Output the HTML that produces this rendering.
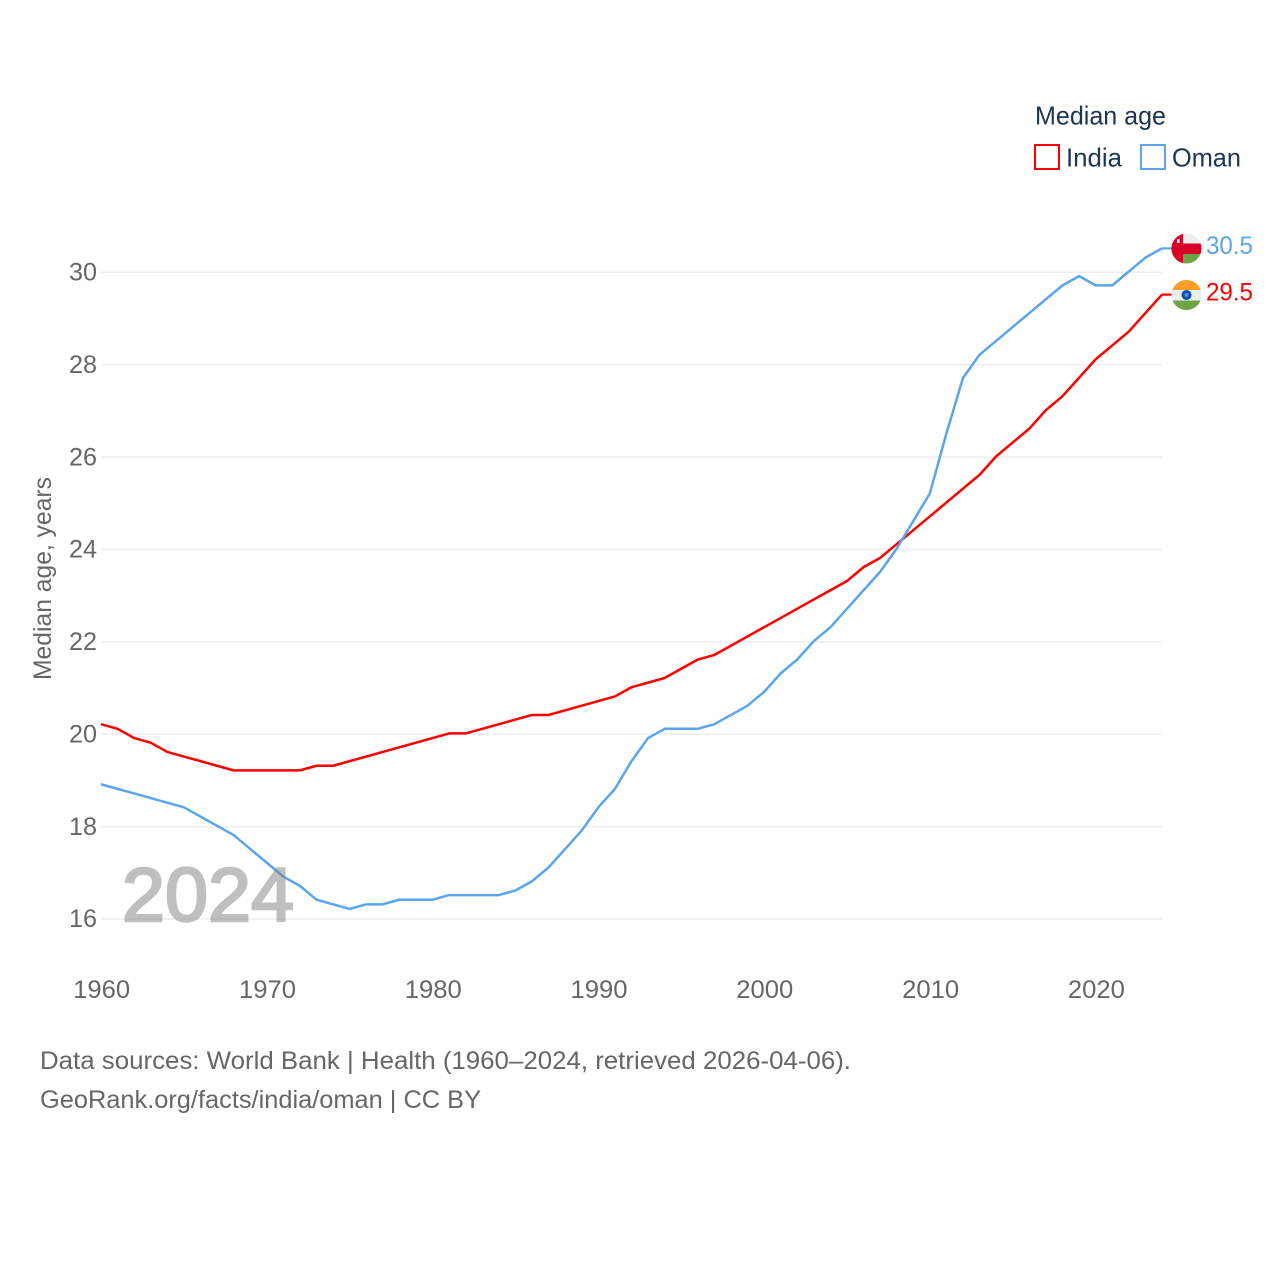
<!DOCTYPE html>
<html lang="en">
<head>
<meta charset="utf-8">
<title>Median age: India and Oman</title>
<style>
html,body{margin:0;padding:0;background:#fff;width:1280px;height:1280px;overflow:hidden}
svg{display:block}
text{font-family:"Liberation Sans",sans-serif}
</style>
</head>
<body>
<svg id="chart" width="1280" height="1280" viewBox="0 0 1280 1280" xmlns="http://www.w3.org/2000/svg">
  <rect x="0" y="0" width="1280" height="1280" fill="#fff"/>
  <g id="grid"></g>
  <g id="y-ticks"></g>
  <g id="x-ticks"></g>
  <text transform="translate(51,680) rotate(-90)" font-size="25" fill="#666" textLength="203" lengthAdjust="spacingAndGlyphs">Median age, years</text>
  <g id="lines"></g>
  <text x="122" y="921" font-size="76" fill="#808080" stroke="#808080" stroke-width="2.500" opacity="0.5" textLength="172" lengthAdjust="spacingAndGlyphs">2024</text>

  <g>
    <text x="1035" y="124.500" font-size="26" fill="#1c3553" textLength="131" lengthAdjust="spacingAndGlyphs">Median age</text>
    <g>
      <rect x="1035" y="145" width="24" height="24" fill="#fff" stroke="#ff0000" stroke-width="2"/>
      <text x="1066" y="166.500" font-size="26" fill="#1c3553" textLength="56" lengthAdjust="spacingAndGlyphs">India</text>
    </g>
    <g>
      <rect x="1141" y="145" width="24" height="24" fill="#fff" stroke="#5ba4ee" stroke-width="2"/>
      <text x="1172" y="166.500" font-size="26" fill="#1c3553" textLength="69" lengthAdjust="spacingAndGlyphs">Oman</text>
    </g>
  </g>

  <defs>
    <clipPath id="clip-oman"><circle cx="1186.500" cy="248.500" r="15"/></clipPath>
    <clipPath id="clip-india"><circle cx="1186.500" cy="295" r="15"/></clipPath>
  </defs>
  <g clip-path="url(#clip-oman)">
    <rect x="1171" y="233" width="31" height="10.500" fill="#eeeeee"/>
    <rect x="1171" y="243.500" width="31" height="10.500" fill="#d80027"/>
    <rect x="1171" y="254" width="31" height="10" fill="#6da544"/>
    <rect x="1171" y="233" width="12" height="31" fill="#d80027"/>
    <rect x="1177" y="239" width="2.500" height="4" fill="#eeeeee"/>
  </g>
  <g clip-path="url(#clip-india)">
    <rect x="1171" y="280" width="31" height="10" fill="#ff9d27"/>
    <rect x="1171" y="290" width="31" height="10.500" fill="#eeeeee"/>
    <rect x="1171" y="300.500" width="31" height="10" fill="#6da544"/>
    <circle cx="1186.500" cy="295" r="5" fill="#0052b4"/>
    <circle cx="1186.500" cy="295" r="2" fill="#5f8fd0"/>
  </g>
  <g id="end-labels"></g>

  <g>
    <text x="40" y="1069" font-size="25" fill="#666" textLength="811" lengthAdjust="spacingAndGlyphs">Data sources: World Bank | Health (1960–2024, retrieved 2026-04-06).</text>
    <text x="40" y="1108" font-size="25" fill="#666" textLength="441" lengthAdjust="spacingAndGlyphs">GeoRank.org/facts/india/oman | CC BY</text>
  </g>
</svg>
<script>
const startYear = 1960;
const xTickLabels = [1960, 1970, 1980, 1990, 2000, 2010, 2020];
const yTickLabels = [16, 18, 20, 22, 24, 26, 28, 30];
const indiaValues = [20.2,20.1,19.9,19.8,19.6,19.5,19.4,19.3,19.2,19.2,19.2,19.2,19.2,19.3,19.3,19.4,19.5,19.6,19.7,19.8,19.9,20.0,20.0,20.1,20.2,20.3,20.4,20.4,20.5,20.6,20.7,20.8,21.0,21.1,21.2,21.4,21.6,21.7,21.9,22.1,22.3,22.5,22.7,22.9,23.1,23.3,23.6,23.8,24.1,24.4,24.7,25.0,25.3,25.6,26.0,26.3,26.6,27.0,27.3,27.7,28.1,28.4,28.7,29.1,29.5];
const omanValues = [18.9,18.8,18.7,18.6,18.5,18.4,18.2,18.0,17.8,17.5,17.2,16.9,16.7,16.4,16.3,16.2,16.3,16.3,16.4,16.4,16.4,16.5,16.5,16.5,16.5,16.6,16.8,17.1,17.5,17.9,18.4,18.8,19.4,19.9,20.1,20.1,20.1,20.2,20.4,20.6,20.9,21.3,21.6,22.0,22.3,22.7,23.1,23.5,24.0,24.6,25.2,26.5,27.7,28.2,28.5,28.8,29.1,29.4,29.7,29.9,29.7,29.7,30.0,30.3,30.5];

const NS = 'http://www.w3.org/2000/svg';
const X0 = 101, X1 = 1162, Y16 = 919, Y30 = 272.3, LINE_NUDGE = -0.8;
const lastYear = startYear + indiaValues.length - 1;
function xScale(year) { return X0 + (year - startYear) * (X1 - X0) / (2024 - 1960); }
function yScale(v) { return Y16 + (v - 16) * (Y30 - Y16) / (30 - 16); }
function make(tag, attrs, parent) {
  const el = document.createElementNS(NS, tag);
  for (const k in attrs) el.setAttribute(k, attrs[k]);
  parent.appendChild(el);
  return el;
}

const gridG = document.getElementById('grid');
const yG = document.getElementById('y-ticks');
yTickLabels.forEach(function (v) {
  const line = make('line', {x1: X0, x2: X1, y1: yScale(v), y2: yScale(v), stroke: '#eeeeee', 'stroke-width': 1.5}, gridG);
  
  
  const t = make('text', {x: 97, y: yScale(v) + 8.2, 'text-anchor': 'end', 'font-size': 25, fill: '#666', textLength: 28, lengthAdjust: 'spacingAndGlyphs'}, yG);
  
  
  t.textContent = v;
});

const xG = document.getElementById('x-ticks');
xTickLabels.forEach(function (year) {
  const t = make('text', {x: xScale(year) + 0.7, y: 998, 'text-anchor': 'middle', 'font-size': 25, fill: '#666', textLength: 57, lengthAdjust: 'spacingAndGlyphs'}, xG);
  
  
  t.textContent = year;
});

const linesG = document.getElementById('lines');
const labelsG = document.getElementById('end-labels');
function drawSeries(values, color, seriesName) {
  const pts = values.map(function (v, i) { return xScale(startYear + i).toFixed(2) + ',' + (yScale(v) + LINE_NUDGE).toFixed(2); });
  const path = make('polyline', {points: pts.join(' '), fill: 'none', stroke: color, 'stroke-width': 2.5, 'stroke-linejoin': 'round'}, linesG);
  
  
  path.setAttribute('aria-label', seriesName);
  const last = values[values.length - 1];
  const tail = make('line', {x1: xScale(lastYear), x2: 1172, y1: yScale(last) + LINE_NUDGE, y2: yScale(last) + LINE_NUDGE, stroke: color, 'stroke-width': 2.2}, linesG);
  
  
  const label = make('text', {x: 1206, y: yScale(last) + 5, 'font-size': 25, fill: color, textLength: 47, lengthAdjust: 'spacingAndGlyphs'}, labelsG);
  
  
  label.textContent = last.toFixed(1);
}
drawSeries(indiaValues, '#ff0000', 'India');
drawSeries(omanValues, '#5ba4ee', 'Oman');
</script>
</body>
</html>
